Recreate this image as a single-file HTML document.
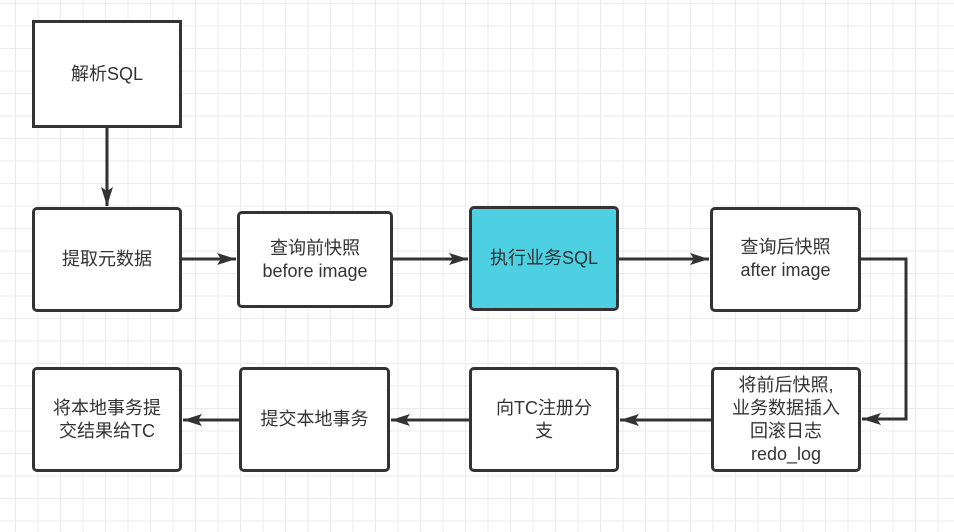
<!DOCTYPE html>
<html><head><meta charset="utf-8"><style>
body{margin:0;width:954px;height:532px;overflow:hidden;background:#fff;
background-image:linear-gradient(to right,#ebebeb 1px,transparent 1px),linear-gradient(to bottom,#ebebeb 1px,transparent 1px);
background-size:22.5px 22.5px;background-position:15px 3px;position:relative;
font-family:"Liberation Sans","Noto Sans CJK SC",sans-serif;}
.b{position:absolute;box-sizing:border-box;border:3px solid #333;border-radius:5px;background:#fff;display:flex;align-items:center;justify-content:center;text-align:center;font-size:18px;color:#333;line-height:23px}
svg{position:absolute;left:0;top:0}
</style></head><body>
<svg width="954" height="532">
<defs><marker id="a" markerWidth="10" markerHeight="10" refX="9" refY="5" orient="auto" markerUnits="userSpaceOnUse"><path d="M0,0 L10,5 L0,10 z" fill="#333"/></marker>
<marker id="m" markerWidth="20" markerHeight="14" refX="19" refY="7" orient="auto" markerUnits="userSpaceOnUse"><path d="M0,1 L19,7 L0,13 L4,7 z" fill="#333"/></marker></defs>
<g stroke="#333" stroke-width="3" fill="none">
<path d="M107 127 V206" marker-end="url(#m)"/>
<path d="M182 259 H236" marker-end="url(#m)"/>
<path d="M393 259 H468" marker-end="url(#m)"/>
<path d="M619 259 H709" marker-end="url(#m)"/>
<path d="M861 259 H906 V419 H862" marker-end="url(#m)"/>
<path d="M711 420 H620" marker-end="url(#m)"/>
<path d="M469 420 H391" marker-end="url(#m)"/>
<path d="M239 420 H183" marker-end="url(#m)"/>
</g></svg>
<div class="b" style="left:32px;top:20px;width:150px;height:108px;border-radius:0">解析SQL</div>
<div class="b" style="left:32px;top:207px;width:150px;height:105px">提取元数据</div>
<div class="b" style="left:237px;top:211px;width:156px;height:97px">查询前快照<br>before image</div>
<div class="b" style="left:469px;top:206px;width:150px;height:105px;background:#4dd0e1">执行业务SQL</div>
<div class="b" style="left:710px;top:207px;width:151px;height:105px;align-items:flex-start;padding-top:26px">查询后快照<br>after image</div>
<div class="b" style="left:711px;top:367px;width:150px;height:105px">将前后快照,<br>业务数据插入<br>回滚日志<br>redo_log</div>
<div class="b" style="left:469px;top:367px;width:150px;height:105px">向TC注册分<br>支</div>
<div class="b" style="left:239px;top:367px;width:151px;height:105px">提交本地事务</div>
<div class="b" style="left:32px;top:367px;width:150px;height:105px">将本地事务提<br>交结果给TC</div>
</body></html>
